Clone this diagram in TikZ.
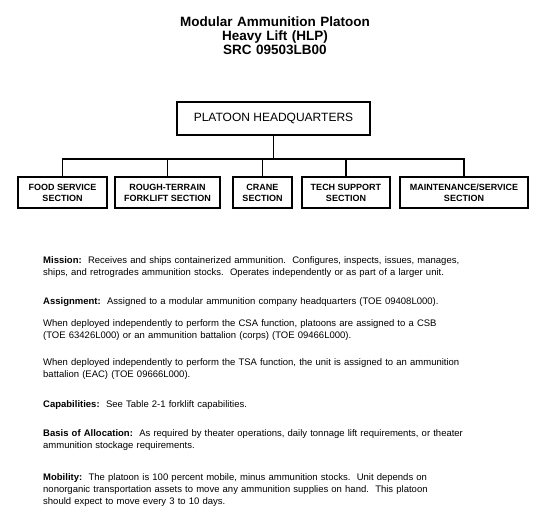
\documentclass[tikz,border=0pt]{standalone}
\usepackage{fontspec}
\setmainfont{Liberation Sans}
\usepackage{tikz}
\tikzset{
  hdr/.style={draw,line width=1.6pt,minimum width=193pt,minimum height=33pt,inner sep=0pt,font=\fontsize{12}{14}\selectfont},
  sec/.style={draw,line width=1.6pt,minimum height=31pt,inner sep=0pt,align=center,font=\bfseries\fontsize{9}{11}\selectfont},
  ln/.style={line width=1.6pt},
  ttl/.style={anchor=base,inner sep=0pt,text width=300pt,align=center,font=\bfseries\fontsize{13.5}{14}\selectfont},
  txt/.style={anchor=base west,inner sep=0pt,text width=495pt,align=left,font=\fontsize{9.5}{12}\selectfont}
}

\begin{document}
\begin{tikzpicture}[x=1pt,y=1pt]
\useasboundingbox[fill=white] (0,0) rectangle (550,-518);
\node[ttl] (title) at (275,-27) {Modular Ammunition Platoon\\Heavy Lift (HLP)\\SRC 09503LB00};
\node[hdr] (hq) at (273.5,-118.5) {PLATOON HEADQUARTERS};
\node[sec,minimum width=89pt] (food) at (62.5,-192.5) {FOOD SERVICE\\SECTION};
\node[sec,minimum width=105pt] (rtfl) at (167.5,-192.5) {ROUGH-TERRAIN\\FORKLIFT SECTION};
\node[sec,minimum width=59pt] (crane) at (262.5,-192.5) {CRANE\\SECTION};
\node[sec,minimum width=88pt] (tech) at (346,-192.5) {TECH SUPPORT\\SECTION};
\node[sec,minimum width=128pt] (maint) at (464,-192.5) {MAINTENANCE/SERVICE\\SECTION};
\draw[ln] (hq.south) -- ++(0,-23) coordinate (bus);
\draw[ln] (food.north) |- (bus) -| (maint.north);
\foreach \n in {rtfl,crane,tech} \draw[ln] (\n.north) -- (\n.north |- bus);
\node[txt] (mission) at (43,-264) {\textbf{Mission:}\ \ Receives and ships containerized ammunition.\ \ Configures, inspects, issues, manages,\\ships, and retrogrades ammunition stocks.\ \ Operates independently or as part of a larger unit.};
\node[txt] (assign) at (43,-305) {\textbf{Assignment:}\ \ Assigned to a modular ammunition company headquarters (TOE 09408L000).};
\node[txt] (csa) at (43,-327) {When deployed independently to perform the CSA function, platoons are assigned to a CSB\\(TOE 63426L000) or an ammunition battalion (corps) (TOE 09466L000).};
\node[txt] (tsa) at (43,-366) {When deployed independently to perform the TSA function, the unit is assigned to an ammunition\\battalion (EAC) (TOE 09666L000).};
\node[txt] (capab) at (43,-408) {\textbf{Capabilities:}\ \ See Table 2-1 forklift capabilities.};
\node[txt] (basis) at (43,-437) {\textbf{Basis of Allocation:}\ \ As required by theater operations, daily tonnage lift requirements, or theater\\ammunition stockage requirements.};
\node[txt] (mobil) at (43,-481) {\textbf{Mobility:}\ \ The platoon is 100 percent mobile, minus ammunition stocks.\ \ Unit depends on\\nonorganic transportation assets to move any ammunition supplies on hand.\ \ This platoon\\should expect to move every 3 to 10 days.};
\end{tikzpicture}
\end{document}
